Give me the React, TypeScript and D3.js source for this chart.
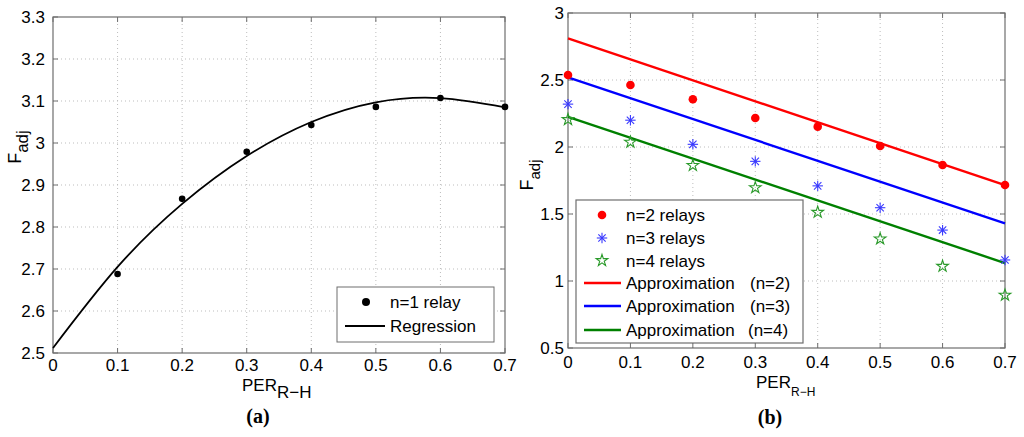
import React from "react";
import * as d3 from "d3";

// ---------- Data ----------
// Panel (a)
const perA = [0.1, 0.2, 0.3, 0.4, 0.5, 0.6, 0.7];
const fadjN1 = [2.688, 2.867, 2.979, 3.043, 3.086, 3.107, 3.086];
const regX = [0, 0.1, 0.2, 0.3, 0.4, 0.5, 0.6, 0.7];
const regY = [2.512, 2.705, 2.855, 2.969, 3.05, 3.097, 3.107, 3.085];
const xTicksA = [0, 0.1, 0.2, 0.3, 0.4, 0.5, 0.6, 0.7];
const xTickLabelsA = ["0", "0.1", "0.2", "0.3", "0.4", "0.5", "0.6", "0.7"];
const yTicksA = [2.5, 2.6, 2.7, 2.8, 2.9, 3.0, 3.1, 3.2, 3.3];
const yTickLabelsA = ["2.5", "2.6", "2.7", "2.8", "2.9", "3", "3.1", "3.2", "3.3"];

// Panel (b)
const perB = [0, 0.1, 0.2, 0.3, 0.4, 0.5, 0.6, 0.7];
const fadjN2 = [2.537, 2.463, 2.356, 2.216, 2.152, 2.007, 1.866, 1.716];
const fadjN3 = [2.32, 2.2, 2.02, 1.893, 1.71, 1.547, 1.38, 1.157];
const fadjN4 = [2.209, 2.04, 1.866, 1.7, 1.517, 1.318, 1.114, 0.898];
const approxX = [0, 0.7];
const approxN2 = [2.81, 1.716];
const approxN3 = [2.52, 1.43];
const approxN4 = [2.224, 1.134];
const xTicksB = [0, 0.1, 0.2, 0.3, 0.4, 0.5, 0.6, 0.7];
const xTickLabelsB = ["0", "0.1", "0.2", "0.3", "0.4", "0.5", "0.6", "0.7"];
const yTicksB = [0.5, 1, 1.5, 2, 2.5, 3];
const yTickLabelsB = ["0.5", "1", "1.5", "2", "2.5", "3"];

const FONT = "'Liberation Sans', Arial, Helvetica, sans-serif";
const SERIF = "'Liberation Serif', 'Times New Roman', serif";
const AXIS = "#6e6e6e";
const GRID = "#bdbdbd";
const RED = "#ff0000";
const BLUE = "#0000ff";
const GREEN = "#008000";
const BLUE_M = "#3a3aff";
const GREEN_M = "#2a9a2a";

type Scale = d3.ScaleLinear<number, number>;

function Frame({ x, y, xt, xl, yt, yl, tickFs, xLabBase, yLabRight }: {
  x: Scale; y: Scale; xt: number[]; xl: string[]; yt: number[]; yl: string[];
  tickFs: number; xLabBase: number; yLabRight: number;
}) {
  const [x0, x1] = x.range();
  const [y0, y1] = y.range(); // y0 bottom, y1 top
  const tl = 5;
  return (
    <g>
      {xt.slice(1, -1).map((t, i) => (
        <line key={"gx" + i} x1={x(t)} x2={x(t)} y1={y0} y2={y1} stroke={GRID} strokeWidth={1} strokeDasharray="1,3" />
      ))}
      {yt.slice(1, -1).map((t, i) => (
        <line key={"gy" + i} x1={x0} x2={x1} y1={y(t)} y2={y(t)} stroke={GRID} strokeWidth={1} strokeDasharray="1,3" />
      ))}
      {xt.map((t, i) => (
        <g key={"tx" + i}>
          <line x1={x(t)} x2={x(t)} y1={y0} y2={y0 - tl} stroke={AXIS} />
          <line x1={x(t)} x2={x(t)} y1={y1} y2={y1 + tl} stroke={AXIS} />
          <text x={x(t)} y={xLabBase} textAnchor="middle" fontFamily={FONT} fontSize={tickFs} fill="#000">{xl[i]}</text>
        </g>
      ))}
      {yt.map((t, i) => (
        <g key={"ty" + i}>
          <line x1={x0} x2={x0 + tl} y1={y(t)} y2={y(t)} stroke={AXIS} />
          <line x1={x1} x2={x1 - tl} y1={y(t)} y2={y(t)} stroke={AXIS} />
          <text x={yLabRight} y={y(t) + 6} textAnchor="end" fontFamily={FONT} fontSize={tickFs} fill="#000">{yl[i]}</text>
        </g>
      ))}
      <rect x={x0} y={y1} width={x1 - x0} height={y0 - y1} fill="none" stroke={AXIS} strokeWidth={1.2} />
    </g>
  );
}

function Asterisk({ cx, cy, r, color }: { cx: number; cy: number; r: number; color: string }) {
  const d = r * Math.SQRT1_2;
  return (
    <g stroke={color} strokeWidth={1.1}>
      <line x1={cx - r} x2={cx + r} y1={cy} y2={cy} />
      <line x1={cx} x2={cx} y1={cy - r} y2={cy + r} />
      <line x1={cx - d} x2={cx + d} y1={cy - d} y2={cy + d} />
      <line x1={cx - d} x2={cx + d} y1={cy + d} y2={cy - d} />
      <circle cx={cx} cy={cy} r={1.2} fill={color} stroke="none" />
    </g>
  );
}

const starPath = d3.symbol(d3.symbolStar, 42)() as string;

function Star({ cx, cy, color }: { cx: number; cy: number; color: string }) {
  return <path d={starPath} transform={`translate(${cx},${cy + 0.5})`} fill="none" stroke={color} strokeWidth={1.1} />;
}

export default function App() {
  // Panel (a) scales
  const xA = d3.scaleLinear().domain([0, 0.7]).range([53, 505]);
  const yA = d3.scaleLinear().domain([2.5, 3.3]).range([353, 17]);
  // Panel (b) scales
  const xB = d3.scaleLinear().domain([0, 0.7]).range([568, 1005]);
  const yB = d3.scaleLinear().domain([0.5, 3]).range([348, 13]);

  const regLine = d3.line<number>().x((_, i) => xA(regX[i])).y((v) => yA(v)).curve(d3.curveNatural);
  const apLine = (arr: number[]) => d3.line<number>().x((_, i) => xB(approxX[i])).y((v) => yB(v))(arr) as string;

  return (
    <svg width={1024} height={437} style={{ position: "absolute", left: 0, top: 0, background: "#fff" }}>
      <rect x={0} y={0} width={1024} height={437} fill="#fff" />

      {/* ---------- Panel (a) ---------- */}
      <Frame x={xA} y={yA} xt={xTicksA} xl={xTickLabelsA} yt={yTicksA} yl={yTickLabelsA} tickFs={17} xLabBase={371} yLabRight={45} />
      <path d={regLine(regY) as string} fill="none" stroke="#000" strokeWidth={1.8} />
      {perA.map((p, i) => (
        <circle key={"a" + i} cx={xA(p)} cy={yA(fadjN1[i])} r={3.3} fill="#000" />
      ))}
      <text x={242} y={391} fontFamily={FONT} fontSize={17}>PER<tspan dy={7} fontSize={17}>R−H</tspan></text>
      <text transform="translate(21,147) rotate(-90)" textAnchor="middle" fontFamily={FONT} fontSize={18}>F<tspan dy={7} fontSize={17}>adj</tspan></text>
      {/* legend (a) */}
      <rect x={337} y={287} width={157} height={55} fill="#fff" stroke={AXIS} strokeWidth={1} />
      <circle cx={366} cy={302} r={4} fill="#000" />
      <text x={390} y={308} fontFamily={FONT} fontSize={17}>n=1 relay</text>
      <line x1={345} x2={385} y1={326} y2={326} stroke="#000" strokeWidth={2} />
      <text x={390} y={332} fontFamily={FONT} fontSize={17}>Regression</text>
      <text x={258} y={423} textAnchor="middle" fontFamily={SERIF} fontWeight="bold" fontSize={20}>(a)</text>

      {/* ---------- Panel (b) ---------- */}
      <Frame x={xB} y={yB} xt={xTicksB} xl={xTickLabelsB} yt={yTicksB} yl={yTickLabelsB} tickFs={17} xLabBase={368} yLabRight={564} />
      <path d={apLine(approxN2)} fill="none" stroke={RED} strokeWidth={2.4} />
      <path d={apLine(approxN3)} fill="none" stroke={BLUE} strokeWidth={2.4} />
      <path d={apLine(approxN4)} fill="none" stroke={GREEN} strokeWidth={2.4} />
      {perB.map((p, i) => (
        <circle key={"r" + i} cx={xB(p)} cy={yB(fadjN2[i])} r={4.3} fill={RED} />
      ))}
      {perB.map((p, i) => (
        <Asterisk key={"b" + i} cx={xB(p)} cy={yB(fadjN3[i])} r={5.2} color={BLUE_M} />
      ))}
      {perB.map((p, i) => (
        <Star key={"g" + i} cx={xB(p)} cy={yB(fadjN4[i])} color={GREEN_M} />
      ))}
      <text x={756} y={388} fontFamily={FONT} fontSize={17}>PER<tspan dy={8} fontSize={12}>R−H</tspan></text>
      <text transform="translate(533,175) rotate(-90)" textAnchor="middle" fontFamily={FONT} fontSize={18}>F<tspan dy={7} fontSize={15}>adj</tspan></text>
      {/* legend (b) */}
      <rect x={576} y={200} width={227} height={143} fill="#fff" stroke={AXIS} strokeWidth={1.2} />
      <circle cx={602} cy={215} r={4.3} fill={RED} />
      <text x={626} y={221} fontFamily={FONT} fontSize={17}>n=2 relays</text>
      <Asterisk cx={602} cy={238} r={5.2} color={BLUE_M} />
      <text x={626} y={244} fontFamily={FONT} fontSize={17}>n=3 relays</text>
      <Star cx={602} cy={260} color={GREEN_M} />
      <text x={626} y={267} fontFamily={FONT} fontSize={17}>n=4 relays</text>
      <line x1={584} x2={621} y1={283} y2={283} stroke={RED} strokeWidth={2.4} />
      <text x={626} y={289} fontFamily={FONT} fontSize={17}>Approximation</text>
      <text x={750} y={289} fontFamily={FONT} fontSize={17}>(n=2)</text>
      <line x1={584} x2={621} y1={306} y2={306} stroke={BLUE} strokeWidth={2.4} />
      <text x={626} y={312} fontFamily={FONT} fontSize={17}>Approximation</text>
      <text x={750} y={312} fontFamily={FONT} fontSize={17}>(n=3)</text>
      <line x1={584} x2={621} y1={330} y2={330} stroke={GREEN} strokeWidth={2.4} />
      <text x={626} y={336} fontFamily={FONT} fontSize={17}>Approximation</text>
      <text x={748} y={336} fontFamily={FONT} fontSize={17}>(n=4)</text>
      <text x={770} y={424} textAnchor="middle" fontFamily={SERIF} fontWeight="bold" fontSize={20}>(b)</text>
    </svg>
  );
}
